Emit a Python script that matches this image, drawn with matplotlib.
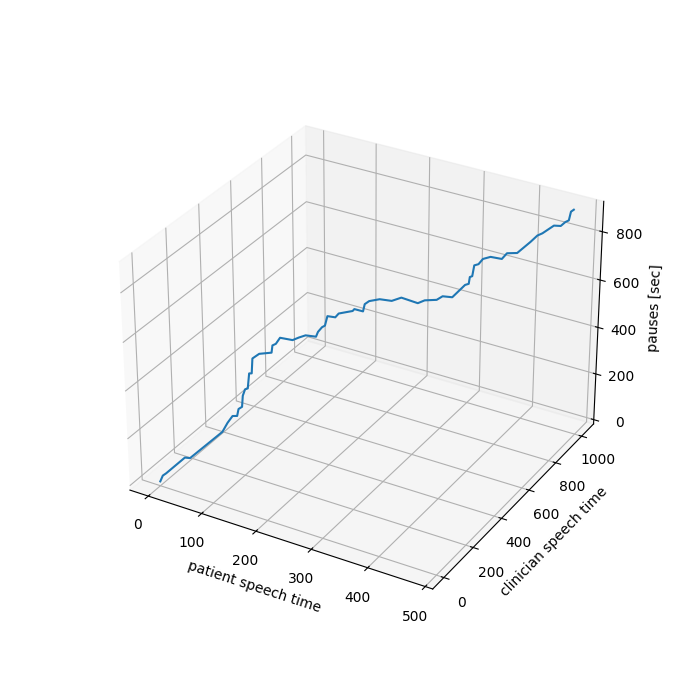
import matplotlib
matplotlib.use("Agg")
import matplotlib.pyplot as plt

# cumulative times
patient = [0, 3, 7, 29, 35, 73, 79, 85, 90, 92, 96, 97, 100, 103, 105, 108, 109, 117,
           131, 132, 136, 141, 155, 162, 170, 182, 184, 189, 192, 195, 204, 208, 216,
           224, 226, 236, 238, 243, 255, 269, 280, 299, 307, 321, 328, 339, 354, 358,
           359, 362, 364, 369, 374, 383, 396, 402, 414, 429, 437, 443, 456, 464, 469,
           473, 475, 478]
clinician = [0, 7, 15, 62, 74, 154, 168, 180, 192, 195, 204, 207, 212, 219, 223, 229,
             232, 248, 278, 281, 289, 299, 330, 345, 361, 386, 392, 401, 409, 415, 434,
             442, 458, 476, 480, 501, 505, 516, 542, 571, 595, 636, 653, 682, 696, 721,
             751, 761, 764, 769, 774, 784, 795, 813, 842, 854, 879, 912, 928, 940, 969,
             986, 998, 1007, 1012, 1020]
pauses = [0, 23, 31, 87, 82, 175, 210, 236, 233, 262, 269, 315, 341, 343, 405, 404, 465,
          481, 479, 508, 513, 536, 519, 526, 532, 521, 539, 557, 561, 599, 590, 604, 606,
          607, 614, 600, 629, 639, 641, 628, 636, 604, 612, 608, 620, 610, 655, 657, 684,
          687, 730, 733, 752, 757, 742, 763, 759, 797, 820, 827, 852, 847, 860, 865, 899,
          905]

fig = plt.figure(figsize=(7, 7), dpi=100)
ax = fig.add_subplot(projection="3d")
ax.plot(patient, clinician, pauses)
ax.set_xlabel("patient speech time")
ax.set_ylabel("clinician speech time")
ax.set_zlabel("pauses [sec]")
fig.savefig("out.png")
